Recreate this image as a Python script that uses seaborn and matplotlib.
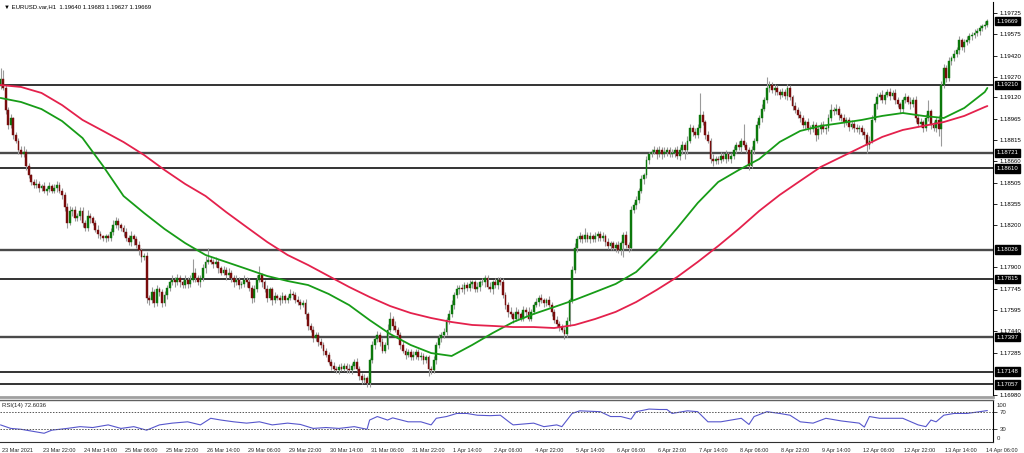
import numpy as np
import pandas as pd
import matplotlib
matplotlib.use("Agg")
import matplotlib.pyplot as plt
import matplotlib.transforms as mtransforms
import seaborn as sns

sns.set_style("white")
plt.rcParams['font.family'] = ['Liberation Sans', 'DejaVu Sans']

# EURUSD H1 closes, 23 Mar 06:00 -> 14 Apr 07:00 (one row = 16 bars)
first_open = 1.1920
closes = [
    1.1925, 1.1919, 1.1903, 1.1892, 1.1897, 1.1885, 1.1881, 1.1874, 1.1871, 1.1873, 1.1863, 1.1856, 1.1851, 1.1849, 1.1850, 1.1847,
    1.1848, 1.1845, 1.1846, 1.1848, 1.1845, 1.1847, 1.1849, 1.1845, 1.1842, 1.1833, 1.1822, 1.1830, 1.1831, 1.1825, 1.1827, 1.1830,
    1.1822, 1.1818, 1.1827, 1.1825, 1.1822, 1.1817, 1.1814, 1.1812, 1.1811, 1.1812, 1.1811, 1.1815, 1.1820, 1.1823, 1.1820, 1.1818,
    1.1815, 1.1811, 1.1808, 1.1812, 1.1810, 1.1806, 1.1802, 1.1797, 1.1798, 1.1768, 1.1766, 1.1772, 1.1764, 1.1774, 1.1772, 1.1764,
    1.1770, 1.1775, 1.1779, 1.1781, 1.1779, 1.1782, 1.1779, 1.1777, 1.1781, 1.1778, 1.1781, 1.1786, 1.1782, 1.1779, 1.1782, 1.1789,
    1.1794, 1.1795, 1.1794, 1.1792, 1.1794, 1.1789, 1.1786, 1.1788, 1.1784, 1.1786, 1.1782, 1.1779, 1.1781, 1.1777, 1.1778, 1.1781,
    1.1779, 1.1775, 1.1768, 1.1774, 1.1781, 1.1784, 1.1779, 1.1774, 1.1768, 1.1774, 1.1766, 1.1769, 1.1768, 1.1766, 1.1769, 1.1766,
    1.1768, 1.1771, 1.1770, 1.1766, 1.1765, 1.1763, 1.1764, 1.1756, 1.1748, 1.1745, 1.1739, 1.1741, 1.1736, 1.1734, 1.1730, 1.1727,
    1.1722, 1.1719, 1.1717, 1.1716, 1.1718, 1.1717, 1.1719, 1.1717, 1.1716, 1.1719, 1.1722, 1.1717, 1.1712, 1.1709, 1.1710, 1.1707,
    1.1723, 1.1734, 1.1738, 1.1741, 1.1736, 1.1730, 1.1734, 1.1745, 1.1753, 1.1748, 1.1745, 1.1741, 1.1734, 1.1730, 1.1727, 1.1729,
    1.1725, 1.1727, 1.1729, 1.1725, 1.1726, 1.1723, 1.1725, 1.1717, 1.1716, 1.1723, 1.1734, 1.1739, 1.1741, 1.1743, 1.1752, 1.1756,
    1.1763, 1.1770, 1.1774, 1.1775, 1.1774, 1.1777, 1.1775, 1.1778, 1.1779, 1.1774, 1.1776, 1.1779, 1.1779, 1.1782, 1.1776, 1.1774,
    1.1779, 1.1777, 1.1781, 1.1779, 1.1770, 1.1763, 1.1758, 1.1756, 1.1753, 1.1758, 1.1756, 1.1753, 1.1759, 1.1758, 1.1753, 1.1758,
    1.1763, 1.1765, 1.1768, 1.1766, 1.1764, 1.1766, 1.1763, 1.1758, 1.1752, 1.1749, 1.1747, 1.1745, 1.1742, 1.1751, 1.1766, 1.1788,
    1.1804, 1.1810, 1.1812, 1.1810, 1.1813, 1.1810, 1.1812, 1.1810, 1.1812, 1.1814, 1.1811, 1.1812, 1.1808, 1.1805, 1.1807, 1.1804,
    1.1806, 1.1802, 1.1807, 1.1813, 1.1806, 1.1804, 1.1831, 1.1835, 1.1838, 1.1845, 1.1853, 1.1856, 1.1867, 1.1871, 1.1873, 1.1874,
    1.1871, 1.1874, 1.1871, 1.1873, 1.1874, 1.1871, 1.1872, 1.1874, 1.1870, 1.1874, 1.1878, 1.1874, 1.1881, 1.1890, 1.1887, 1.1885,
    1.1890, 1.1899, 1.1894, 1.1885, 1.1881, 1.1868, 1.1866, 1.1868, 1.1867, 1.1870, 1.1868, 1.1871, 1.1868, 1.1870, 1.1874, 1.1878,
    1.1876, 1.1881, 1.1878, 1.1874, 1.1863, 1.1874, 1.1881, 1.1892, 1.1897, 1.1904, 1.1910, 1.1919, 1.1921, 1.1917, 1.1919, 1.1916,
    1.1914, 1.1916, 1.1913, 1.1919, 1.1912, 1.1906, 1.1903, 1.1899, 1.1897, 1.1892, 1.1894, 1.1890, 1.1889, 1.1892, 1.1885, 1.1889,
    1.1892, 1.1889, 1.1890, 1.1897, 1.1903, 1.1902, 1.1904, 1.1899, 1.1897, 1.1894, 1.1896, 1.1891, 1.1893, 1.1890, 1.1889, 1.1890,
    1.1887, 1.1885, 1.1878, 1.1881, 1.1896, 1.1907, 1.1912, 1.1914, 1.1910, 1.1914, 1.1916, 1.1913, 1.1915, 1.1910, 1.1907, 1.1904,
    1.1910, 1.1912, 1.1909, 1.1907, 1.1910, 1.1897, 1.1893, 1.1894, 1.1890, 1.1897, 1.1902, 1.1892, 1.1890, 1.1896, 1.1889, 1.1921,
    1.1933, 1.1926, 1.1938, 1.1940, 1.1943, 1.1946, 1.1953, 1.1948, 1.1952, 1.1953, 1.1956, 1.1957, 1.1958, 1.1960, 1.1962, 1.1963,
    1.19640, 1.19669,
]

# wick length beyond the body, in pips
hi_wick = [
    8, 7, 2, 2, 3, 1, 2, 2, 3, 4, 2, 2, 1, 2, 3, 2,
    2, 3, 2, 3, 2, 3, 3, 2, 2, 2, 3, 4, 2, 3, 2, 3,
    3, 2, 4, 2, 2, 2, 3, 2, 1, 2, 2, 3, 4, 3, 2, 2,
    2, 3, 2, 4, 2, 2, 3, 2, 2, 3, 2, 4, 2, 3, 2, 2,
    3, 2, 2, 3, 2, 3, 2, 2, 3, 2, 3, 10, 3, 2, 2, 3,
    4, 9, 3, 2, 3, 2, 2, 3, 2, 3, 2, 2, 3, 2, 2, 3,
    2, 3, 2, 3, 3, 7, 2, 2, 3, 2, 2, 3, 2, 2, 3, 2,
    2, 3, 2, 2, 3, 2, 2, 3, 2, 2, 3, 2, 2, 3, 2, 2,
    2, 2, 3, 2, 2, 3, 2, 2, 3, 2, 2, 3, 2, 2, 3, 2,
    2, 3, 2, 3, 2, 3, 2, 4, 5, 2, 3, 2, 2, 3, 2, 2,
    2, 3, 2, 2, 3, 2, 2, 2, 2, 3, 2, 3, 2, 3, 2, 3,
    3, 2, 3, 2, 3, 2, 2, 3, 2, 2, 3, 2, 3, 2, 2, 3,
    2, 3, 2, 2, 3, 2, 2, 3, 2, 3, 2, 2, 3, 2, 3, 2,
    2, 3, 2, 3, 2, 2, 3, 2, 2, 3, 2, 2, 2, 3, 2, 3,
    3, 2, 3, 2, 5, 2, 3, 2, 3, 2, 2, 3, 2, 3, 2, 2,
    2, 3, 2, 2, 3, 2, 3, 2, 3, 2, 3, 2, 3, 2, 2, 3,
    2, 3, 2, 3, 2, 2, 3, 2, 3, 2, 3, 2, 3, 3, 2, 3,
    3, 16, 3, 2, 3, 2, 3, 2, 2, 3, 2, 3, 2, 2, 3, 2,
    3, 2, 12, 2, 2, 3, 2, 3, 2, 3, 2, 8, 3, 2, 3, 2,
    2, 3, 2, 3, 2, 2, 3, 2, 3, 2, 2, 3, 2, 3, 2, 3,
    2, 3, 2, 3, 4, 2, 3, 2, 2, 3, 2, 2, 3, 2, 3, 2,
    2, 3, 2, 3, 3, 2, 3, 2, 3, 2, 2, 3, 2, 3, 2, 2,
    2, 3, 2, 3, 2, 3, 2, 3, 2, 3, 8, 2, 3, 2, 3, 3,
    3, 2, 3, 2, 3, 2, 3, 2, 2, 3, 2, 2, 3, 2, 2, 2,
    3, 1.4,
]
lo_wick = [
    2, 2, 3, 3, 2, 3, 2, 3, 2, 2, 3, 2, 2, 2, 2, 3,
    2, 2, 3, 2, 2, 2, 3, 2, 3, 3, 4, 2, 3, 2, 2, 3,
    3, 2, 2, 3, 2, 2, 3, 2, 2, 3, 2, 2, 2, 2, 3, 2,
    3, 2, 2, 3, 4, 2, 3, 3, 2, 4, 3, 2, 3, 2, 3, 3,
    2, 3, 2, 2, 3, 2, 3, 2, 2, 3, 2, 2, 3, 2, 3, 2,
    3, 2, 2, 3, 2, 3, 2, 2, 3, 2, 3, 3, 2, 3, 2, 2,
    3, 2, 4, 3, 2, 2, 3, 2, 3, 2, 3, 2, 2, 3, 2, 2,
    2, 2, 3, 2, 2, 3, 2, 3, 3, 2, 3, 2, 3, 2, 3, 2,
    2, 3, 2, 2, 3, 2, 2, 3, 2, 3, 2, 2, 3, 3, 2, 3,
    3, 2, 3, 2, 3, 2, 2, 3, 2, 3, 2, 2, 3, 2, 3, 2,
    2, 2, 3, 2, 2, 3, 2, 5, 3, 2, 3, 2, 3, 2, 2, 3,
    2, 3, 2, 3, 2, 3, 2, 2, 3, 2, 2, 3, 2, 3, 2, 2,
    3, 2, 3, 2, 2, 3, 4, 2, 3, 2, 3, 2, 2, 3, 2, 2,
    2, 2, 3, 2, 3, 2, 2, 3, 2, 2, 3, 2, 4, 2, 3, 2,
    2, 3, 2, 3, 2, 2, 3, 2, 2, 3, 2, 2, 3, 2, 3, 2,
    3, 2, 3, 10, 2, 3, 2, 2, 3, 2, 2, 3, 2, 3, 2, 2,
    3, 2, 3, 2, 3, 2, 2, 3, 2, 3, 3, 6, 3, 2, 3, 2,
    2, 3, 2, 3, 2, 3, 3, 2, 3, 2, 2, 3, 2, 3, 2, 2,
    2, 3, 2, 2, 3, 2, 3, 2, 2, 3, 2, 2, 3, 2, 3, 2,
    3, 2, 2, 3, 2, 3, 2, 2, 3, 2, 3, 2, 3, 2, 4, 3,
    3, 2, 3, 2, 2, 3, 2, 3, 2, 3, 2, 3, 2, 3, 2, 3,
    2, 3, 6, 3, 2, 2, 3, 2, 2, 3, 2, 3, 2, 3, 2, 3,
    3, 2, 2, 3, 2, 3, 2, 2, 3, 2, 2, 3, 2, 3, 5, 12,
    2, 3, 2, 3, 2, 2, 3, 2, 3, 2, 2, 3, 2, 2, 3, 2,
    2, 1.3,
]

# moving averages read every 8 bars
ma_idx = list(range(0, 385, 8)) + [385]
ma_green = [1.19116, 1.19087, 1.19036, 1.18950, 1.18828, 1.18627, 1.18411, 1.18289, 1.18174, 1.18073,
            1.17987, 1.17937, 1.17887, 1.17836, 1.17800, 1.17771, 1.17707, 1.17627, 1.17519, 1.17419,
            1.17340, 1.17282, 1.17261, 1.17340, 1.17426, 1.17505, 1.17563, 1.17613, 1.17664, 1.17721,
            1.17779, 1.17865, 1.18009, 1.18181, 1.18361, 1.18512, 1.18598, 1.18677, 1.18800, 1.18879,
            1.18915, 1.18936, 1.18958, 1.18987, 1.19008, 1.18987, 1.18972, 1.19044, 1.19159, 1.19188]
ma_red = [1.19209, 1.19195, 1.19152, 1.19065, 1.18958, 1.18879, 1.18799, 1.18706, 1.18598, 1.18498,
          1.18411, 1.18296, 1.18188, 1.18081, 1.17987, 1.17915, 1.17836, 1.17757, 1.17685, 1.17620,
          1.17570, 1.17534, 1.17505, 1.17484, 1.17477, 1.17469, 1.17469, 1.17462, 1.17484, 1.17527,
          1.17578, 1.17649, 1.17736, 1.17829, 1.17937, 1.18052, 1.18174, 1.18304, 1.18419, 1.18520,
          1.18620, 1.18692, 1.18764, 1.18836, 1.18886, 1.18915, 1.18943, 1.18987, 1.19051, 1.19058]

# RSI(14)
rsi_idx = [0, 4, 8, 13, 17, 20, 26, 31, 36, 42, 47, 52, 57, 62, 67, 73, 78, 82, 86, 91, 96, 101, 106,
           112, 117, 122, 127, 132, 138, 143, 144, 147, 151, 153, 159, 164, 168, 170, 174, 178, 182, 186,
           191, 195, 199, 200, 208, 212, 217, 219, 223, 226, 234, 238, 242, 246, 248, 253, 257, 260, 262,
           268, 272, 276, 281, 289, 292, 294, 299, 304, 308, 312, 317, 322, 328, 335, 337, 339, 343, 348,
           352, 358, 361, 363, 365, 368, 372, 377, 382, 385]
rsi_val = [40, 32, 30, 25, 21, 28, 32, 36, 34, 40, 32, 36, 28, 40, 44, 47, 40, 55, 51, 47, 44, 47, 40,
           44, 41, 32, 34, 32, 36, 30, 51, 59, 51, 56, 47, 47, 40, 55, 59, 66, 66, 62,
           61, 62, 44, 40, 44, 36, 40, 36, 66, 72, 70, 59, 59, 53, 70, 76, 75, 75, 66,
           72, 70, 47, 47, 55, 41, 59, 70, 66, 62, 47, 44, 55, 49, 44, 35, 59, 55, 55,
           55, 40, 36, 51, 47, 62, 66, 66, 70, 72.6]

levels = [1.19210, 1.18721, 1.18610, 1.18026, 1.17815, 1.17397, 1.17148, 1.17057]
last_price = 1.19669
price_ticks = [1.19725, 1.19575, 1.19420, 1.19270, 1.19120, 1.18965, 1.18815, 1.18660, 1.18505, 1.18355,
               1.18200, 1.17900, 1.17745, 1.17595, 1.17440, 1.17285, 1.16980]
time_labels = ['23 Mar 2021', '23 Mar 22:00', '24 Mar 14:00', '25 Mar 06:00', '25 Mar 22:00',
               '26 Mar 14:00', '29 Mar 06:00', '29 Mar 22:00', '30 Mar 14:00', '31 Mar 06:00',
               '31 Mar 22:00', '1 Apr 14:00', '2 Apr 06:00', '4 Apr 22:00', '5 Apr 14:00',
               '6 Apr 06:00', '6 Apr 22:00', '7 Apr 14:00', '8 Apr 06:00', '8 Apr 22:00',
               '9 Apr 14:00', '12 Apr 06:00', '12 Apr 22:00', '13 Apr 14:00', '14 Apr 06:00']

# build OHLC table
c = np.array(closes)
o = np.r_[first_open, c[:-1]]
df = pd.DataFrame({'bar': np.arange(len(c)), 'open': o, 'close': c})
df['high'] = df[['open', 'close']].max(axis=1) + np.array(hi_wick) * 1e-4
df['low'] = df[['open', 'close']].min(axis=1) - np.array(lo_wick) * 1e-4
up = df[df['close'] >= df['open']]
dn = df[df['close'] < df['open']]

W, H = 1024, 453
fig = plt.figure(figsize=(W / 100, H / 100), dpi=100)
ax = fig.add_axes([0, 1 - 397 / H, 993 / W, 395 / H])
ax_rsi = fig.add_axes([0, 1 - 442 / H, 993 / W, 42 / H], sharex=ax)

# candles
ax.vlines(df['bar'], df['low'], df['high'], color='#9a9a9a', lw=0.8, zorder=2)
ax.bar(up['bar'], up['close'] - up['open'], bottom=up['open'], width=0.72,
       color='#0c780c', edgecolor='#0c780c', lw=0.3, zorder=3)
ax.bar(dn['bar'], dn['close'] - dn['open'], bottom=dn['open'], width=0.72,
       color='#780c0c', edgecolor='#780c0c', lw=0.3, zorder=3)

# moving averages
sns.lineplot(x=ma_idx, y=ma_green, ax=ax, color='#179c17', lw=1.3, zorder=4)
sns.lineplot(x=ma_idx, y=ma_red, ax=ax, color='#e4214c', lw=1.3, zorder=4)

# support / resistance lines
heavy = {1.18721, 1.18026, 1.17397}
for lv in levels:
    if lv in heavy:
        ax.axhline(lv, color='#4a4a4a', lw=1.7, zorder=1)
    else:
        ax.axhline(lv, color='#111111', lw=1.2, zorder=1)

ax.set_xlim(-0.2, 387.2)
ax.set_ylim(1.16966, 1.19806)
ax.yaxis.tick_right()
ax.set_yticks(price_ticks)
ax.set_yticklabels([f'{t:.5f}' for t in price_ticks])
ax.tick_params(axis='y', direction='out', length=3, width=0.6, pad=2, labelsize=4.3, colors='#000000')
ax.tick_params(axis='x', bottom=False, labelbottom=False)
ax.set_xlabel('')
ax.set_ylabel('')
for s in ['left', 'top']:
    ax.spines[s].set_visible(False)
ax.spines['right'].set_color('#000000')
ax.spines['right'].set_linewidth(0.8)
ax.spines['bottom'].set_color('#a0a0a0')
ax.spines['bottom'].set_linewidth(2.0)

# price boxes on the right axis
tr = mtransforms.blended_transform_factory(ax.transAxes, ax.transData)
off = mtransforms.ScaledTranslation(3.5 / 100, 0, fig.dpi_scale_trans)
for lv in levels + [last_price]:
    ax.text(1.0, lv, f'{lv:.5f}', transform=tr + off, ha='left', va='center',
            fontsize=4.3, color='white', clip_on=False, zorder=10,
            bbox=dict(boxstyle='square,pad=0.3', fc='black', ec='black'))

fig.text(4 / W, 1 - 7 / H, '\u25bc EURUSD.var,H1  1.19640 1.19683 1.19627 1.19669',
         ha='left', va='center', fontsize=4.3, color='#000000')

# RSI panel
sns.lineplot(x=rsi_idx, y=rsi_val, ax=ax_rsi, color='#5656cc', lw=0.8)
for lv in [70, 30]:
    ax_rsi.axhline(lv, color='#555555', lw=0.7, ls=(0, (1.5, 1.5)))
ax_rsi.set_ylim(1.1, 96.6)
ax_rsi.yaxis.tick_right()
ax_rsi.set_yticks([70, 30])
ax_rsi.set_yticklabels(['70', '30'])
ax_rsi.tick_params(axis='y', direction='out', length=3, width=0.6, pad=2, labelsize=4.3)
ax_rsi.text(1.0, 0.88, '100', transform=ax_rsi.transAxes + off, ha='left', va='center', fontsize=4.3)
ax_rsi.text(1.0, 0.09, '0', transform=ax_rsi.transAxes + off, ha='left', va='center', fontsize=4.3)
fig.text(2 / W, 1 - 405 / H, 'RSI(14) 72.6036', ha='left', va='center', fontsize=4.3)
ax_rsi.set_xlabel('')
ax_rsi.set_ylabel('')
ax_rsi.spines['left'].set_visible(False)
ax_rsi.spines['top'].set_color('#606060')
ax_rsi.spines['top'].set_linewidth(1.0)
ax_rsi.spines['bottom'].set_color('#303030')
ax_rsi.spines['bottom'].set_linewidth(0.8)
ax_rsi.spines['right'].set_color('#000000')
ax_rsi.spines['right'].set_linewidth(0.8)

# time axis, labels start right of each tick
ax_rsi.set_xticks(list(range(0, 385, 16)))
ax_rsi.set_xticklabels(time_labels)
ax_rsi.tick_params(axis='x', direction='out', length=2.5, width=0.6, pad=1.5, labelsize=4.0)
xoff = mtransforms.ScaledTranslation(1.5 / 100, 0, fig.dpi_scale_trans)
for lbl in ax_rsi.get_xticklabels():
    lbl.set_horizontalalignment('left')
    lbl.set_transform(lbl.get_transform() + xoff)
ax_rsi.set_xlim(-0.2, 387.2)

fig.savefig('out.png', dpi=100, facecolor='white')
